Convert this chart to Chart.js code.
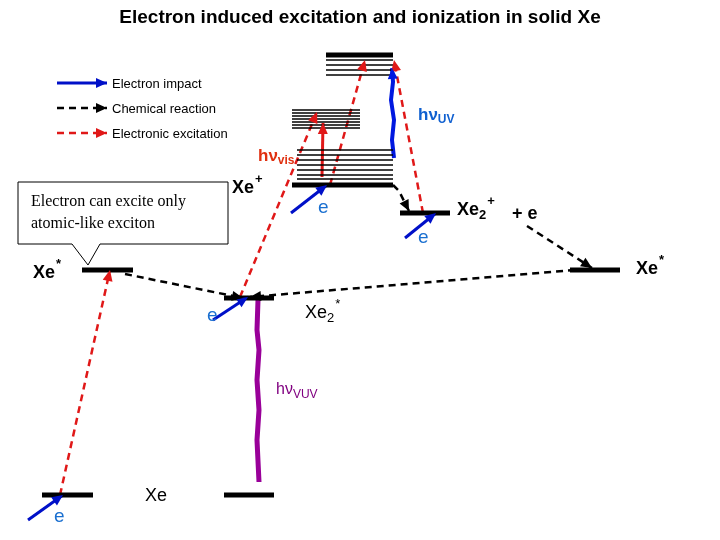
<!DOCTYPE html>
<html>
<head>
<meta charset="utf-8">
<script src="https://cdn.jsdelivr.net/npm/chart.js@4/dist/chart.umd.min.js"></script>
<style>
  body { margin: 0; background: #fff; }
  #box { width: 720px; height: 540px; }
</style>
</head>
<body>
<div id="box"><canvas id="diagram" width="720" height="540"></canvas></div>
<script>
// Energieniveaus (dicke Linien): [x1, x2, y]
const levels = [
  [42, 93, 495], [224, 274, 495], [82, 133, 270], [224, 274, 298],
  [292, 393, 185], [400, 450, 213], [570, 620, 270], [326, 393, 55]
];
// dünne Linienstapel: [x1, x2, y-Werte]
const stacks = [
  [326, 393, [60, 65, 70, 75]],
  [292, 360, [110, 113, 116, 119, 122, 125, 128]],
  [297, 393, [150, 155, 160, 165, 170, 175, 179]]
];
// Pfeile: Punkte
const blueArrows = [
  [[57, 83], [107, 83]],
  [[28, 520], [63, 495]],
  [[213, 320], [248, 297]],
  [[291, 213], [327, 185]],
  [[405, 238], [436, 213]]
];
const blackDashed = [
  [[57, 108], [107, 108]],
  [[125, 274], [243, 298]],
  [[575, 270], [250, 297]],
  [[393, 185], [399, 191], [409, 211]],
  [[527, 226], [592, 268]]
];
const redDashed = [
  [[57, 133], [107, 133]],
  [[60, 495], [110, 270]],
  [[240, 297], [317, 112]],
  [[330, 185], [365, 60]],
  [[423, 213], [394, 60]]
];
const redSolid = [[[322, 177], [323, 123]]];
const blueWave = [[394, 158], [392, 140], [394, 120], [391, 100], [393, 82], [392, 68]];
const purpleWave = [[258, 300], [257, 330], [259, 350], [257, 380], [259, 410], [257, 440], [259, 482]];

// Beschriftungen: [text, x, y, farbe, font, sub, sup, align]
const labels = [
  ['Electron induced excitation and ionization in solid Xe', 360, 18, '#000', 'bold 19px Arial', '', '', 'center'],
  ['Electron impact', 112, 84, '#000', '13px Arial'],
  ['Chemical reaction', 112, 109, '#000', '13px Arial'],
  ['Electronic excitation', 112, 134, '#000', '13px Arial'],
  ['hν', 258, 156, '#e03010', 'bold 17px Arial', 'vis'],
  ['hν', 418, 115, '#1060d0', 'bold 17px Arial', 'UV'],
  ['Xe', 232, 188, '#000', 'bold 18px Arial', '', '+'],
  ['e', 318, 208, '#1a6fd0', '19px Arial'],
  ['e', 418, 238, '#1a6fd0', '19px Arial'],
  ['e', 207, 316, '#1a6fd0', '19px Arial'],
  ['e', 54, 517, '#1a6fd0', '19px Arial'],
  ['Xe', 457, 210, '#000', 'bold 18px Arial', '2', '+'],
  ['+ e', 512, 214, '#000', 'bold 18px Arial'],
  ['Xe', 33, 273, '#000', 'bold 18px Arial', '', '*'],
  ['Xe', 636, 269, '#000', 'bold 18px Arial', '', '*'],
  ['Xe', 305, 313, '#000', '18px Arial', '2', '*'],
  ['hν', 276, 390, '#800080', '16px Arial', 'VUV'],
  ['Xe', 145, 496, '#000', '18px Arial']
];

function pts(a) { return a.map(p => ({ x: p[0], y: p[1] })); }

const datasets = [];
levels.forEach(l => datasets.push({ data: pts([[l[0], l[2]], [l[1], l[2]]]), borderColor: '#000', borderWidth: 5 }));
stacks.forEach(s => s[2].forEach(y => datasets.push({ data: pts([[s[0], y], [s[1], y]]), borderColor: '#000', borderWidth: 1.5 })));
blueArrows.forEach(a => datasets.push({ data: pts(a), borderColor: '#0010c8', borderWidth: 3, arrow: true }));
blackDashed.forEach(a => datasets.push({ data: pts(a), borderColor: '#000', borderWidth: 2.5, borderDash: [7, 5], arrow: true }));
redDashed.forEach(a => datasets.push({ data: pts(a), borderColor: '#e01818', borderWidth: 2.5, borderDash: [7, 5], arrow: true }));
redSolid.forEach(a => datasets.push({ data: pts(a), borderColor: '#e01818', borderWidth: 3, arrow: true }));
datasets.push({ data: pts(blueWave), borderColor: '#0018e0', borderWidth: 4, arrow: true });
datasets.push({ data: pts(purpleWave), borderColor: '#990099', borderWidth: 5 });
datasets.forEach(d => { d.showLine = true; d.pointRadius = 0; d.tension = 0; });

// Pfeilspitzen, Sprechblase und Texte
const extras = {
  id: 'extras',
  afterDatasetsDraw(chart) {
    const ctx = chart.ctx, xs = chart.scales.x, ys = chart.scales.y;
    const X = v => xs.getPixelForValue(v), Y = v => ys.getPixelForValue(v);
    chart.data.datasets.forEach(ds => {
      if (!ds.arrow) return;
      const n = ds.data.length;
      const a = ds.data[n - 2], b = ds.data[n - 1];
      const ang = Math.atan2(Y(b.y) - Y(a.y), X(b.x) - X(a.x));
      ctx.save();
      ctx.translate(X(b.x), Y(b.y));
      ctx.rotate(ang);
      ctx.fillStyle = ds.borderColor;
      ctx.beginPath();
      ctx.moveTo(0, 0); ctx.lineTo(-11, -5); ctx.lineTo(-11, 5); ctx.closePath();
      ctx.fill();
      ctx.restore();
    });
    // Sprechblase
    ctx.save();
    ctx.strokeStyle = '#000'; ctx.lineWidth = 1; ctx.fillStyle = '#fff';
    ctx.beginPath();
    ctx.moveTo(X(18), Y(182)); ctx.lineTo(X(228), Y(182)); ctx.lineTo(X(228), Y(244));
    ctx.lineTo(X(100), Y(244)); ctx.lineTo(X(88), Y(265)); ctx.lineTo(X(72), Y(244));
    ctx.lineTo(X(18), Y(244)); ctx.closePath();
    ctx.fill(); ctx.stroke();
    ctx.fillStyle = '#000'; ctx.font = '16px "Liberation Serif"'; ctx.textBaseline = 'middle';
    ctx.fillText('Electron can excite only', X(31), Y(202));
    ctx.fillText('atomic-like exciton', X(31), Y(224));
    ctx.restore();
    labels.forEach(l => {
      ctx.save();
      ctx.fillStyle = l[3]; ctx.font = l[4]; ctx.textBaseline = 'middle';
      ctx.textAlign = l[7] || 'left';
      const x = X(l[1]), y = Y(l[2]);
      ctx.fillText(l[0], x, y);
      const w = ctx.measureText(l[0]).width;
      const size = parseInt(l[4].match(/(\d+)px/)[1]);
      ctx.font = l[4].replace(/\d+px/, Math.round(size * 0.72) + 'px');
      if (l[5]) ctx.fillText(l[5], x + w, y + size * 0.3);
      if (l[6]) {
        const sw = l[5] ? ctx.measureText(l[5]).width : 0;
        ctx.fillText(l[6], x + w + sw + 1, y - size * 0.45);
      }
      ctx.restore();
    });
  }
};

new Chart(document.getElementById('diagram'), {
  type: 'scatter',
  data: { datasets: datasets },
  options: {
    responsive: false,
    animation: false,
    layout: { padding: 0 },
    plugins: { legend: { display: false }, tooltip: { enabled: false } },
    scales: {
      x: { type: 'linear', min: 0, max: 720, display: false },
      y: { type: 'linear', min: 0, max: 540, reverse: true, display: false }
    }
  },
  plugins: [extras]
});
</script>
</body>
</html>
